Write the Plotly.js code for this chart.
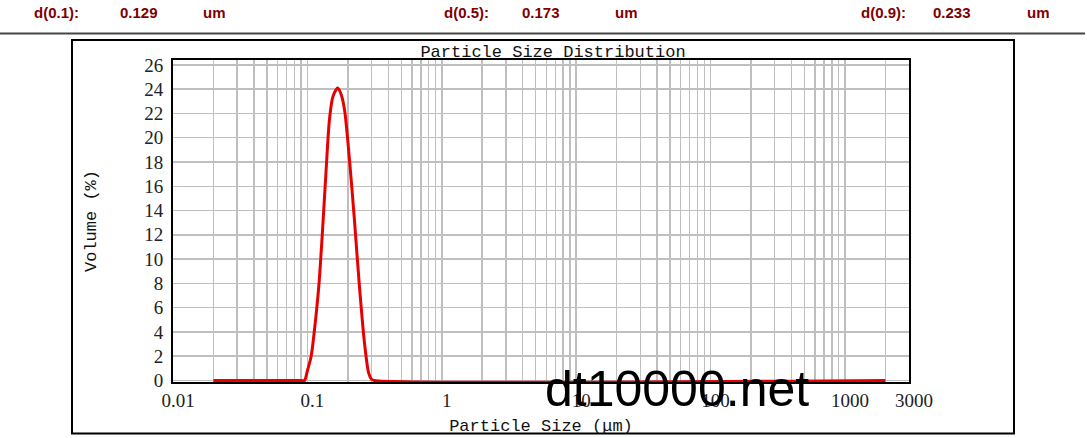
<!DOCTYPE html>
<html>
<head>
<meta charset="utf-8">
<script src="https://cdn.plot.ly/plotly-3.0.1.min.js"></script>
<style>html,body{margin:0;padding:0;background:#fff;}#chart{width:1087px;height:438px;}</style>
</head>
<body>
<div id="chart"></div>
<script>
// Particle size (um) and volume (%)
const sizes   = [0.02, 0.09, 0.0951, 0.1, 0.1067, 0.113, 0.1216, 0.1289, 0.138, 0.146, 0.155, 0.1683, 0.178, 0.189, 0.2057, 0.224, 0.244, 0.266, 0.286, 0.30, 0.316, 2000];
const volumes = [0,    0,    0,      0.8, 2.0,    4.2,   7.75,   11.9,   17.4,  21.5,  23.4,  24.1,   23.6,  22.3,  18.2,   13.2,  7.75,  3.1,   0.6,   0.1,  0,     0];

const xTickVals = [0.01, 0.1, 1, 10, 100, 1000, 3000];
const xTickText = ['0.01', '0.1', '1', '10', '100', '1000', '3000'];
const yTickVals = [0, 2, 4, 6, 8, 10, 12, 14, 16, 18, 20, 22, 24, 26];
const yTickText = ['0', '2', '4', '6', '8', '10', '12', '14', '16', '18', '20', '22', '24', '26'];

const dLabels = ['d(0.1):', 'd(0.5):', 'd(0.9):'];
const dValues = ['0.129', '0.173', '0.233'];
const dUnits  = ['um', 'um', 'um'];

const titleText = 'Particle Size Distribution';
const xTitle = 'Particle Size (μm)';
const yTitle = 'Volume (%)';
const watermark = 'dt10000.net';

// minor gridline positions (2..9 within each decade)
const decades = [0.01, 0.1, 1, 10, 100];
const minorVals = [];
decades.forEach(d => { for (let m = 2; m <= 9; m++) minorVals.push(+(d * m).toPrecision(3)); });
minorVals.push(2000);

const W = 1087, H = 438;
const L = 173, R = 909, T = 60, B = 382.5;
const px = x => (x - L) / (R - L);
const py = y => (B - y) / (B - T);

const headerColor = '#800000';
const headerFont = {family: 'Liberation Sans, Arial, sans-serif', size: 15, color: headerColor, weight: 'bold'};
const headerX = [[32, 118, 201], [442, 520, 613], [859, 931, 1025]];
const annotations = [];
dLabels.forEach((lab, i) => {
  [lab, dValues[i], dUnits[i]].forEach((t, j) => {
    annotations.push({text: '<b>' + t + '</b>', xref: 'paper', yref: 'paper', x: px(headerX[i][j]), y: py(12),
      xanchor: 'left', yanchor: 'middle', showarrow: false, font: headerFont});
  });
});
annotations.push({text: watermark, xref: 'paper', yref: 'paper', x: px(677), y: py(390),
  xanchor: 'center', yanchor: 'middle', showarrow: false,
  font: {family: 'Liberation Sans, Arial, sans-serif', size: 50, color: '#000'}});

const gridColor = '#bfbfbf';
const tickFont = {family: 'Liberation Serif, Times New Roman, serif', size: 19, color: '#222'};
const titleFont = {family: 'Liberation Mono, Courier New, monospace', size: 17, color: '#111'};

const trace = {
  x: sizes, y: volumes, type: 'scatter', mode: 'lines',
  line: {color: '#e60000', width: 3, shape: 'spline', smoothing: 0.8},
  cliponaxis: false, hoverinfo: 'x+y'
};

const layout = {
  width: W, height: H,
  margin: {l: L, r: W - R, t: T, b: H - B, pad: 0},
  paper_bgcolor: '#fff', plot_bgcolor: '#fff',
  showlegend: false,
  title: {text: titleText, font: titleFont, xref: 'container', yref: 'container',
    x: 553 / W, xanchor: 'center', y: 1 - 51 / H, yanchor: 'middle'},
  xaxis: {
    type: 'log', range: [-2, Math.log10(3000)],
    tickmode: 'array', tickvals: xTickVals, ticktext: xTickText, ticks: '',
    showgrid: true, gridcolor: gridColor, gridwidth: 1.5,
    minor: {tickmode: 'array', tickvals: minorVals, showgrid: true, gridcolor: gridColor, gridwidth: 1.5, ticks: ''},
    showline: true, linecolor: '#000', linewidth: 2, mirror: true, zeroline: false,
    tickfont: tickFont, ticklabelshift: 5, layer: 'below traces',
    title: {text: xTitle, font: titleFont, standoff: 9}
  },
  yaxis: {
    range: [-0.125, 26.4],
    tickmode: 'array', tickvals: yTickVals, ticktext: yTickText, ticks: '',
    showgrid: true, gridcolor: gridColor, gridwidth: 1.5,
    showline: true, linecolor: '#000', linewidth: 2, mirror: true, zeroline: false,
    tickfont: tickFont, layer: 'below traces', ticklabelstandoff: 4,
    title: {text: yTitle, font: titleFont, standoff: 43}
  },
  shapes: [
    {type: 'rect', xref: 'paper', yref: 'paper', x0: px(72), x1: px(1014), y0: py(434), y1: py(40),
      line: {color: '#000', width: 2}, fillcolor: 'rgba(0,0,0,0)', layer: 'below'},
    {type: 'line', xref: 'paper', yref: 'paper', x0: px(0), x1: px(1085), y0: py(33.5), y1: py(33.5),
      line: {color: '#444', width: 2}}
  ],
  annotations: annotations
};

Plotly.newPlot('chart', [trace], layout, {displayModeBar: false, staticPlot: true});
</script>
</body>
</html>
